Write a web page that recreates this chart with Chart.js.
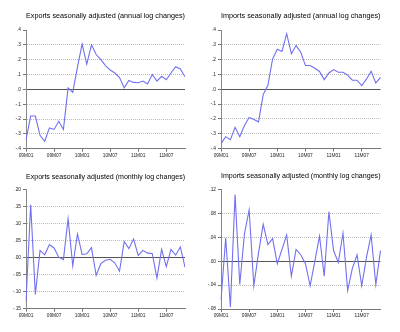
<!DOCTYPE html>
<html>
<head>
<meta charset="utf-8">
<script src="https://cdn.jsdelivr.net/npm/chart.js@4"></script>
<style>
  body { margin: 0; background: #fff; }
  #wrap { position: relative; width: 400px; height: 332px; }
  canvas { position: absolute; }
</style>
</head>
<body>
<div id="wrap">
  <canvas id="c1" width="200" height="166" style="left:0;top:0"></canvas>
  <canvas id="c2" width="200" height="166" style="left:200px;top:0"></canvas>
  <canvas id="c3" width="200" height="166" style="left:0;top:166px"></canvas>
  <canvas id="c4" width="200" height="166" style="left:200px;top:166px"></canvas>
</div>
<script>
// monthly categories 2009M01 .. 2011M11
const months = [
  '09M01','09M02','09M03','09M04','09M05','09M06','09M07','09M08','09M09','09M10','09M11','09M12',
  '10M01','10M02','10M03','10M04','10M05','10M06','10M07','10M08','10M09','10M10','10M11','10M12',
  '11M01','11M02','11M03','11M04','11M05','11M06','11M07','11M08','11M09','11M10','11M11'
];

// values
const exportsAnnual = [
  -0.34, -0.18, -0.18, -0.31, -0.35, -0.26, -0.27, -0.215, -0.27, 0.01, -0.02, 0.15,
  0.305, 0.17, 0.30, 0.235, 0.20, 0.16, 0.13, 0.11, 0.08, 0.01, 0.06, 0.047,
  0.045, 0.056, 0.036, 0.10, 0.056, 0.088, 0.065, 0.11, 0.153, 0.137, 0.085
];
const importsAnnual = [
  -0.367, -0.32, -0.34, -0.257, -0.32, -0.245, -0.19, -0.205, -0.22, -0.035, 0.027, 0.205,
  0.27, 0.255, 0.375, 0.24, 0.295, 0.25, 0.16, 0.16, 0.142, 0.12, 0.065, 0.11,
  0.133, 0.115, 0.115, 0.095, 0.061, 0.061, 0.025, 0.068, 0.122, 0.043, 0.08
];
const exportsMonthly = [
  -0.128, 0.155, -0.108, 0.021, 0.008, 0.038, 0.028, 0.001, -0.006, 0.114, -0.024, 0.069,
  0.009, 0.011, 0.029, -0.052, -0.018, -0.008, -0.005, -0.016, -0.04, 0.047, 0.026, 0.054,
  0.006, 0.021, 0.013, 0.012, -0.06, 0.024, -0.027, 0.024, 0.007, 0.031, -0.028
];
const importsMonthly = [
  -0.065, 0.039, -0.077, 0.112, -0.039, 0.046, 0.086, -0.041, 0.014, 0.062, 0.028, 0.038,
  -0.004, 0.02, 0.044, -0.025, 0.02, 0.011, -0.004, -0.041, 0.0, 0.042, -0.025, 0.083,
  0.018, -0.002, 0.047, -0.049, -0.012, 0.011, -0.041, 0.006, 0.044, -0.039, 0.018
];

// y tick values and their labels
const annualTicks = [-0.4, -0.3, -0.2, -0.1, 0, 0.1, 0.2, 0.3, 0.4];
const annualTickLabels = ['-.4', '-.3', '-.2', '-.1', '.0', '.1', '.2', '.3', '.4'];
const expMonthlyTicks = [-0.15, -0.10, -0.05, 0, 0.05, 0.10, 0.15, 0.20];
const expMonthlyTickLabels = ['-.15', '-.10', '-.05', '.00', '.05', '.10', '.15', '.20'];
const impMonthlyTicks = [-0.08, -0.04, 0, 0.04, 0.08, 0.12];
const impMonthlyTickLabels = ['-.08', '-.04', '.00', '.04', '.08', '.12'];

const FONT = 'Liberation Sans, Arial, sans-serif';

function makePanel(id, title, values, ticks, tickLabels, g) {
  const top = ticks[ticks.length - 1];
  return new Chart(document.getElementById(id), {
    type: 'line',
    data: {
      labels: months,
      datasets: [{
        data: values,
        borderColor: 'rgb(112, 112, 240)',
        borderWidth: 1.1,
        pointRadius: 0,
        tension: 0
      }]
    },
    options: {
      responsive: false,
      animation: false,
      devicePixelRatio: 1,
      layout: { padding: { left: 0, right: 200 - g.right, top: 0, bottom: 0 } },
      plugins: {
        legend: { display: false },
        tooltip: { enabled: false },
        title: {
          display: true,
          text: title,
          fullSize: false,
          color: '#000',
          font: { family: FONT, size: 7.6, weight: 'normal' },
          padding: { top: g.titleTop, bottom: g.plotTop - g.titleTop - 9.1 }
        }
      },
      scales: {
        x: {
          type: 'category',
          afterBuildTicks: (s) => { s.ticks = s.ticks.filter(t => t.value % 6 === 0); },
          afterFit: (s) => { s.height = 166 - g.plotBottom; },
          border: { display: true, color: '#777', width: 1 },
          grid: { drawOnChartArea: false, tickLength: 3, tickColor: '#777' },
          ticks: {
            autoSkip: false, maxRotation: 0, padding: 1,
            color: '#222', font: { family: FONT, size: 4.8 }
          }
        },
        y: {
          min: ticks[0],
          max: top,
          afterBuildTicks: (s) => { s.ticks = ticks.map(v => ({ value: v })); },
          afterFit: (s) => { s.width = g.left; },
          border: {
            display: true, color: '#888', width: 1,
            dash: (c) => (c.tick && c.tick.value === 0) ? [] : [1, 1]
          },
          grid: {
            tickLength: 3,
            tickColor: '#777',
            color: (c) => {
              if (!c.tick) return '#bbb';
              if (c.tick.value === 0) return '#555';
              if (c.tick.value === top) return 'rgba(0,0,0,0)';
              return '#bbb';
            }
          },
          ticks: {
            padding: 2,
            color: '#222',
            font: { family: FONT, size: 4.8 },
            callback: (v, i) => tickLabels[i]
          }
        }
      }
    }
  });
}

makePanel('c1', 'Exports seasonally adjusted (annual log changes)', exportsAnnual,
  annualTicks, annualTickLabels, { left: 26, right: 185, titleTop: 11, plotTop: 30, plotBottom: 148.7 });
makePanel('c2', 'Imports seasonally adjusted (annual log changes)', importsAnnual,
  annualTicks, annualTickLabels, { left: 21, right: 180.5, titleTop: 11, plotTop: 30, plotBottom: 148.5 });
makePanel('c3', 'Exports seasonally adjusted (monthly log changes)', exportsMonthly,
  expMonthlyTicks, expMonthlyTickLabels, { left: 26, right: 185, titleTop: 6, plotTop: 23.3, plotBottom: 142.7 });
makePanel('c4', 'Imports seasonally adjusted (monthly log changes)', importsMonthly,
  impMonthlyTicks, impMonthlyTickLabels, { left: 21, right: 180.5, titleTop: 5.5, plotTop: 23.7, plotBottom: 143 });
</script>
</body>
</html>
